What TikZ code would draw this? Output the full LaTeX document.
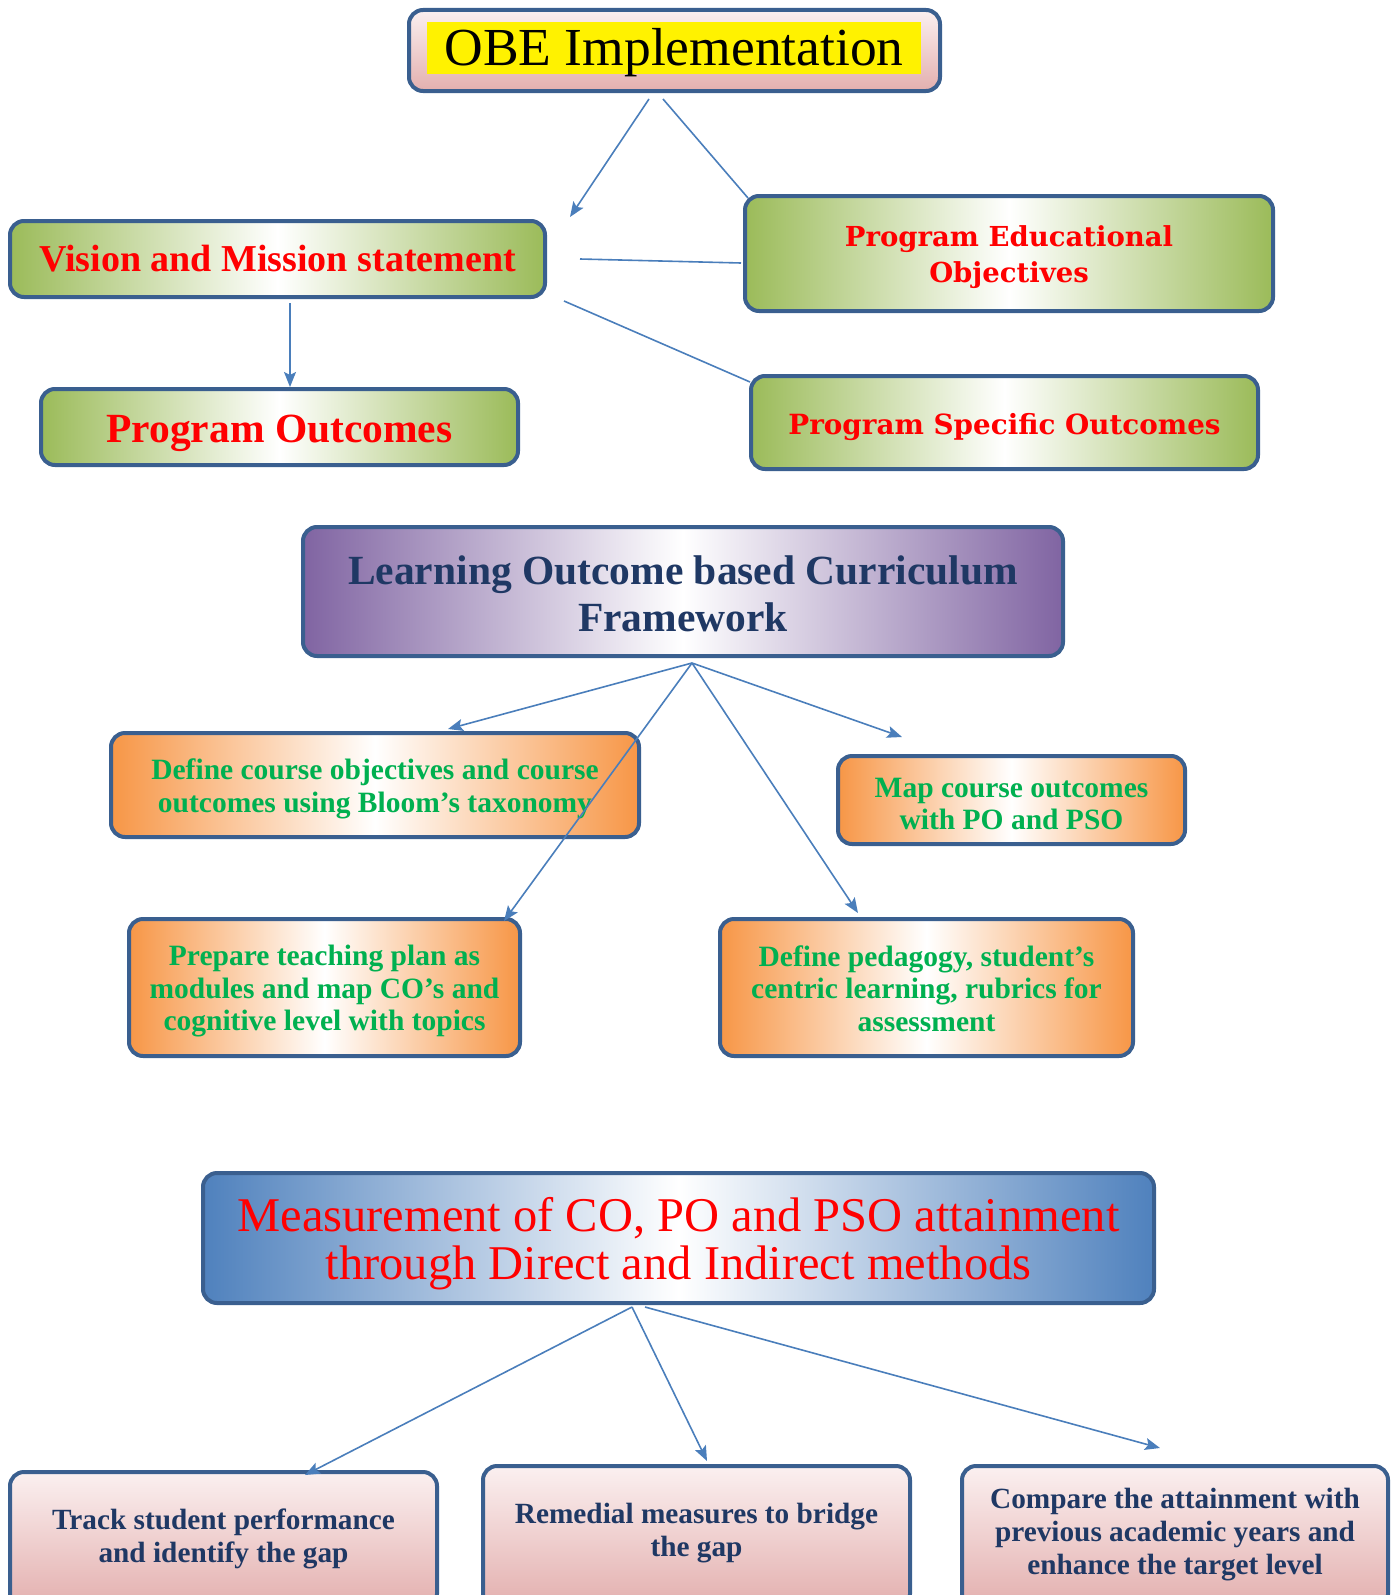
\documentclass[tikz,border=0pt]{standalone}
\usepackage{fontspec}
\setmainfont{Liberation Serif}
\newfontfamily\bkfont{DejaVu Serif}
\usetikzlibrary{arrows.meta}
\definecolor{edgeblue}{HTML}{3A5F8F}
\definecolor{connblue}{HTML}{4A7EBB}
\definecolor{olive}{HTML}{9BBB59}
\definecolor{purp}{HTML}{8064A2}
\definecolor{orng}{HTML}{F79646}
\definecolor{blu}{HTML}{4F81BD}
\definecolor{pinkb}{HTML}{E3AFAE}
\definecolor{pinkt}{HTML}{FBF0F0}
\definecolor{grn}{HTML}{00B050}
\definecolor{navy}{HTML}{1F3864}
\definecolor{redtxt}{HTML}{FF0000}
\tikzset{
  box/.style={draw=edgeblue, line width=4pt, rounded corners=14pt, inner sep=0pt},
  greenbox/.style={box, left color=olive, right color=olive, middle color=white},
  purplebox/.style={box, left color=purp, right color=purp, middle color=white},
  orangebox/.style={box, left color=orng, right color=orng, middle color=white},
  bluebox/.style={box, left color=blu, right color=blu, middle color=white},
  pinkbox/.style={box, top color=pinkt, bottom color=pinkb},
  lbl/.style={inner sep=0pt, align=center},
  greenlbl/.style={lbl, text=grn, font=\fontsize{29.5}{32.5}\selectfont\bfseries},
  navylbl/.style={lbl, text=navy, font=\fontsize{29.3}{33}\selectfont\bfseries},
  conn/.style={draw=connblue, line width=1.6pt},
  arr/.style={conn, -{Stealth[length=15pt,width=12pt,inset=3pt]}}
}
\begin{document}
\begin{tikzpicture}[x=1pt,y=-1pt]
\useasboundingbox (0,0) rectangle (1398,1595);
\clip (0,0) rectangle (1398,1595);

% top section
\node[pinkbox, minimum width=531pt, minimum height=81pt] (obe) at (674.5,50.5) {};
\node[fill=yellow, inner sep=0pt, minimum width=494pt, minimum height=52pt] (hl) at (674,48) {};
\node[lbl, font=\fontsize{53.5}{56}\selectfont] (obetxt) at ([yshift=-5pt]hl.center) {OBE Implementation};

\node[greenbox, minimum width=535pt, minimum height=76pt] (vis) at (277.5,259) {};
\node[lbl, text=redtxt, font=\fontsize{38}{44}\selectfont\bfseries] (vistxt) at (vis.center) {Vision and Mission statement};
\node[greenbox, minimum width=528pt, minimum height=115pt] (peo) at (1009,253.5) {};
\node[lbl, text=redtxt, font=\bkfont\fontsize{27.5}{36}\selectfont\bfseries] (peotxt) at ([yshift=-4pt]peo.center) {Program Educational\\Objectives};
\node[greenbox, minimum width=477pt, minimum height=76pt] (po) at (279.5,427) {};
\node[lbl, text=redtxt, font=\fontsize{41.5}{44}\selectfont\bfseries] (potxt) at ([yshift=-6pt]po.center) {Program Outcomes};
\node[greenbox, minimum width=507pt, minimum height=93pt] (pso) at (1004.5,422.5) {};
\node[lbl, text=redtxt, font=\bkfont\fontsize{27.8}{36}\selectfont\bfseries] (psotxt) at ([yshift=-5pt]pso.center) {Program Specific Outcomes};

% middle section
\node[purplebox, minimum width=760pt, minimum height=129pt] (locf) at (683,591.5) {};
\node[lbl, text=navy, font=\fontsize{41.5}{47}\selectfont\bfseries] (locftxt) at ([yshift=-2pt]locf.center)
  {Learning Outcome based Curriculum\\Framework};
\node[orangebox, minimum width=528pt, minimum height=104pt] (def) at (375,785) {};
\node[greenlbl] (deftxt) at ([yshift=-4pt]def.center)
  {Define course objectives and course\\outcomes using Bloom’s taxonomy};
\node[orangebox, minimum width=347pt, minimum height=88pt] (map) at (1011.5,800) {};
\node[greenlbl] (maptxt) at ([yshift=-4pt]map.center) {Map course outcomes\\with PO and PSO};
\node[orangebox, minimum width=391pt, minimum height=137pt] (prep) at (324.5,987.5) {};
\node[greenlbl] (preptxt) at ([yshift=-4pt]prep.center)
  {Prepare teaching plan as\\modules and map CO’s and\\cognitive level with topics};
\node[orangebox, minimum width=413pt, minimum height=137pt] (ped) at (926.5,987.5) {};
\node[greenlbl] (pedtxt) at ([yshift=-1pt]ped.center)
  {Define pedagogy, student’s\\centric learning, rubrics for\\assessment};

% bottom section
\node[bluebox, minimum width=951pt, minimum height=130pt] (meas) at (678.5,1238) {};
\node[lbl, text=redtxt, font=\fontsize{48.5}{48}\selectfont] (meastxt) at ([yshift=-6pt]meas.center)
  {Measurement of CO, PO and PSO attainment\\through Direct and Indirect methods};
\node[pinkbox, minimum width=427pt, minimum height=136pt] (trk) at (223.5,1540) {};
\node[navylbl] (trktxt) at (223.5,1539) {Track student performance\\and identify the gap};
\node[pinkbox, minimum width=427pt, minimum height=142pt] (rem) at (696.5,1537) {};
\node[navylbl] (remtxt) at (696.5,1533) {Remedial measures to bridge\\the gap};
\node[pinkbox, minimum width=426pt, minimum height=142pt] (cmp) at (1175,1537) {};
\node[navylbl] (cmptxt) at (1175,1535)
  {Compare the attainment with\\previous academic years and\\enhance the target level};

% connector end points
\coordinate (a1) at (649,99);
\coordinate (a2) at (570,217);
\coordinate (b1) at (663,99);
\coordinate (b2) at (748,198);
\coordinate (c1) at (580,259);
\coordinate (c2) at (741,263);
\coordinate (d1) at (564,301);
\coordinate (d2) at (750,382);
\coordinate (e1) at (290,303);
\coordinate (e2) at (290,387);
\coordinate (l0) at (692,663);
\coordinate (l1) at (448,729);
\coordinate (l2) at (504,921);
\coordinate (l3) at (858,913);
\coordinate (l4) at (902,737);
\coordinate (m0) at (632,1307);
\coordinate (m0b) at (645,1307);
\coordinate (m1) at (305,1475);
\coordinate (m2) at (707,1461);
\coordinate (m3) at (1160,1448);

\draw[arr] (a1) -- (a2);
\draw[conn] (b1) -- (b2);
\draw[conn] (c1) -- (c2);
\draw[conn] (d1) -- (d2);
\draw[arr] (e1) -- (e2);
\draw[arr] (l0) -- (l1);
\draw[arr] (l0) -- (l2);
\draw[arr] (l0) -- (l3);
\draw[arr] (l0) -- (l4);
\draw[arr] (m0) -- (m1);
\draw[arr] (m0) -- (m2);
\draw[arr] (m0b) -- (m3);
\end{tikzpicture}
\end{document}
